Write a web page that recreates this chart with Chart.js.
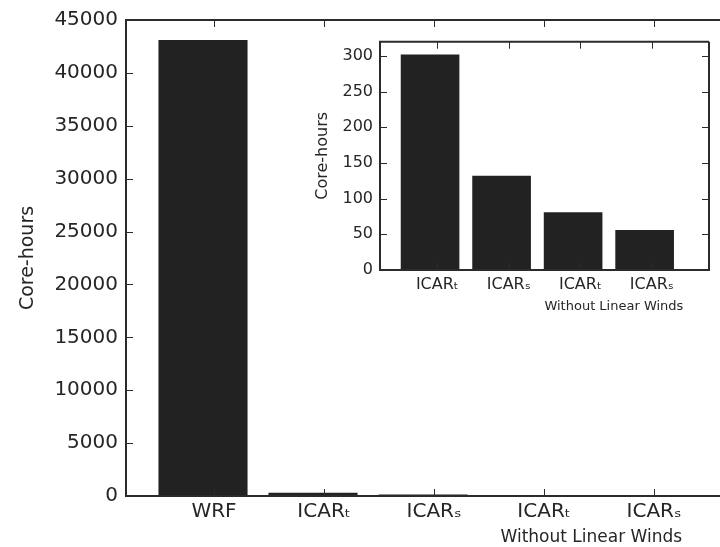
<!DOCTYPE html>
<html>
<head>
<meta charset="utf-8">
<script src="https://cdn.jsdelivr.net/npm/chart.js@4"></script>
<style>
  html, body { margin: 0; padding: 0; background: #fff; overflow: hidden; }
  #wrap { position: relative; width: 720px; height: 547px; }
  #main { position: absolute; left: 0; top: 0; }
  #inset { position: absolute; left: 300px; top: 20px; }
</style>
</head>
<body>
<div id="wrap">
  <canvas id="main" width="720" height="547"></canvas>
  <canvas id="inset" width="420" height="300"></canvas>
</div>
<script>
const categories = ['WRF', 'ICARₜ', 'ICARₛ', 'ICARₜ', 'ICARₛ'];
const coreHours = [43100, 302, 132, 81, 56];
const insetCategories = ['ICARₜ', 'ICARₛ', 'ICARₜ', 'ICARₛ'];
const insetCoreHours = [302, 132, 81, 56];
const mainYTicks = [0, 5000, 10000, 15000, 20000, 25000, 30000, 35000, 40000, 45000];
const insetYTicks = [0, 50, 100, 150, 200, 250, 300];
const groupLabel = 'Without Linear Winds';
const yTitle = 'Core-hours';

const FONT = 'DejaVu Sans';
const INK = '#262626';
const BAR = '#222222';

// matplotlib style frame: spines, inward ticks, group caption
const frame = {
  id: 'frame',
  afterDatasetsDraw(chart, args, opts) {
    const {ctx, chartArea: a, scales: {x, y}} = chart;
    ctx.save();
    ctx.strokeStyle = '#2b2b2b';
    ctx.lineWidth = 1;
    const len = opts.len;
    ctx.beginPath();
    x.ticks.forEach(t => {
      const px = Math.round(x.getPixelForValue(t.value)) + 0.5;
      ctx.moveTo(px, a.top); ctx.lineTo(px, a.top + len);
      ctx.moveTo(px, a.bottom); ctx.lineTo(px, a.bottom - len);
    });
    y.ticks.forEach(t => {
      const py = Math.round(y.getPixelForValue(t.value)) + 0.5;
      ctx.moveTo(a.left, py); ctx.lineTo(a.left + len, py);
      if (opts.right) { ctx.moveTo(a.right, py); ctx.lineTo(a.right - len, py); }
    });
    ctx.stroke();

    ctx.lineWidth = 2;
    ctx.beginPath();
    ctx.moveTo(a.right, a.top);
    ctx.lineTo(a.left, a.top);
    ctx.lineTo(a.left, a.bottom);
    ctx.lineTo(a.right, a.bottom);
    if (opts.right) ctx.lineTo(a.right, a.top);
    ctx.stroke();

    ctx.fillStyle = INK;
    ctx.font = opts.groupSize + 'px "' + FONT + '"';
    ctx.textAlign = 'center';
    ctx.textBaseline = 'middle';
    ctx.fillText(groupLabel, x.getPixelForValue(opts.groupAt), opts.groupY);
    ctx.restore();
  }
};

function barChart(id, labels, values, cfg) {
  return new Chart(document.getElementById(id), {
    type: 'bar',
    data: {
      datasets: [{
        data: values.map((v, i) => ({x: i + 0.4, y: v})),
        backgroundColor: BAR,
        borderWidth: 0,
        barPercentage: cfg.barPct,
        categoryPercentage: 1
      }]
    },
    options: {
      responsive: false,
      animation: false,
      events: [],
      layout: { padding: cfg.padding },
      plugins: {
        legend: { display: false },
        tooltip: { enabled: false },
        frame: { len: 7, right: cfg.right, groupAt: cfg.groupAt, groupY: cfg.groupY, groupSize: cfg.groupSize }
      },
      scales: {
        x: {
          type: 'linear',
          offset: false,
          min: -0.3,
          max: cfg.xMax,
          afterBuildTicks: s => { s.ticks = labels.map((c, i) => ({value: i + 0.5})); },
          afterFit: s => { s.height = cfg.xHeight; },
          ticks: {
            callback: (v, i) => labels[i],
            font: { family: FONT, size: cfg.tickSize },
            color: INK,
            padding: cfg.xPad,
            maxRotation: 0,
            autoSkip: false
          },
          grid: { display: false, drawTicks: false },
          border: { display: false }
        },
        y: {
          min: 0,
          max: cfg.yMax,
          afterBuildTicks: s => { s.ticks = cfg.yTicks.map(v => ({value: v})); },
          afterFit: s => { s.width = cfg.yWidth; },
          ticks: {
            callback: v => String(v),
            font: { family: FONT, size: cfg.tickSize },
            color: INK,
            padding: cfg.yPad
          },
          grid: { display: false, drawTicks: false },
          border: { display: false },
          title: {
            display: true,
            text: yTitle,
            color: INK,
            font: { family: FONT, size: cfg.titleSize },
            padding: { top: cfg.titlePad, bottom: 0 }
          }
        }
      }
    },
    plugins: [frame]
  });
}

barChart('main', categories, coreHours, {
  barPct: 0.81, padding: { top: 19, right: 0, bottom: 0, left: 0 },
  right: false, xMax: 5.1, xHeight: 51, xPad: 4, yPad: 8,
  yMax: 45000, yTicks: mainYTicks, yWidth: 126,
  tickSize: 20, titleSize: 19, titlePad: 17,
  groupAt: 3.93, groupY: 537.5, groupSize: 17
});

barChart('inset', insetCategories, insetCoreHours, {
  barPct: 0.82, padding: { top: 21.7, right: 11, bottom: 0, left: 0 },
  right: true, xMax: 4.3, xHeight: 50, xPad: 5, yPad: 7,
  yMax: 320, yTicks: insetYTicks, yWidth: 80,
  tickSize: 16, titleSize: 16, titlePad: 13,
  groupAt: 2.97, groupY: 286.7, groupSize: 13
});
</script>
</body>
</html>
